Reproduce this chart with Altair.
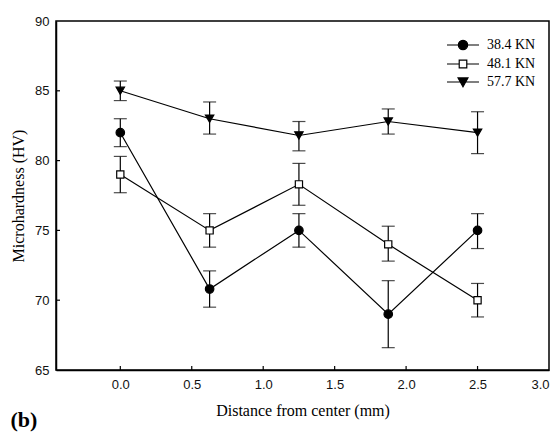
import altair as alt
import pandas as pd

# ---- data ----
distance = [0.0, 0.625, 1.25, 1.875, 2.5]
series_names = ["38.4 KN", "48.1 KN", "57.7 KN"]

mean_384 = [82.0, 70.8, 75.0, 69.0, 75.0]
lo_384 = [81.0, 69.5, 73.8, 66.6, 73.7]
hi_384 = [83.0, 72.1, 76.2, 71.4, 76.2]

mean_481 = [79.0, 75.0, 78.3, 74.0, 70.0]
lo_481 = [77.7, 73.8, 76.8, 72.8, 68.8]
hi_481 = [80.3, 76.2, 79.8, 75.3, 71.2]

mean_577 = [85.0, 83.0, 81.8, 82.8, 82.0]
lo_577 = [84.3, 81.9, 80.7, 81.9, 80.5]
hi_577 = [85.7, 84.2, 82.8, 83.7, 83.5]

x_ticks = [0.0, 0.5, 1.0, 1.5, 2.0, 2.5, 3.0]
y_ticks = [65, 70, 75, 80, 85, 90]

rows = []
for name, m, lo, hi in zip(series_names,
                           [mean_384, mean_481, mean_577],
                           [lo_384, lo_481, lo_577],
                           [hi_384, hi_481, hi_577]):
    for d, mv, l, h in zip(distance, m, lo, hi):
        rows.append({"series": name, "x": d, "y": mv, "lo": l, "hi": h})
df = pd.DataFrame(rows)

W, H = 493, 349
XDOM = [-0.45, 3.0]
YDOM = [65, 90]

xs = alt.Scale(domain=XDOM, nice=False, zero=False)
ys = alt.Scale(domain=YDOM, nice=False, zero=False)

base = alt.Chart(df)

x_enc = alt.X("x:Q", scale=xs, axis=alt.Axis(
    values=x_ticks, format=".1f", title="Distance from center (mm)",
    tickSize=0, labelPadding=8, titlePadding=11, grid=False))
y_enc = alt.Y("y:Q", scale=ys, axis=alt.Axis(
    values=y_ticks, format="d", title="Microhardness (HV)",
    tickSize=0, labelPadding=7, titlePadding=8, grid=False))

lines = base.mark_line(color="black", strokeWidth=1.2).encode(
    x=x_enc, y=y_enc, detail="series:N")

ebar = base.mark_rule(color="black", strokeWidth=1.2).encode(
    x="x:Q", y="lo:Q", y2="hi:Q")
cap_lo = base.mark_tick(orient="horizontal", size=13, thickness=1.2, color="black").encode(
    x="x:Q", y="lo:Q")
cap_hi = base.mark_tick(orient="horizontal", size=13, thickness=1.2, color="black").encode(
    x="x:Q", y="hi:Q")

pt_styles = {
    "38.4 KN": dict(shape="circle", fill="black", size=72),
    "48.1 KN": dict(shape="square", fill="white", size=52),
    "57.7 KN": dict(shape="triangle-down", fill="black", size=70),
}
point_layers = []
for name, st in pt_styles.items():
    point_layers.append(
        base.transform_filter(alt.datum.series == name).mark_point(
            shape=st["shape"], fill=st["fill"], size=st["size"],
            stroke="black", strokeWidth=1.2, opacity=1, filled=False
        ).encode(x="x:Q", y="y:Q")
    )

# legend symbols: line + marker as custom paths
leg_paths = [
    "M-1.78,0L1.78,0M-0.52,0A0.52,0.52,0,1,1,0.52,0A0.52,0.52,0,1,1,-0.52,0Z",
    "M-1.78,0L-0.42,0M0.42,0L1.78,0M-0.42,-0.42L0.42,-0.42L0.42,0.42L-0.42,0.42Z",
    "M-1.78,0L1.78,0M-0.55,-0.45L0.55,-0.45L0,0.52Z",
]
legend_layer = base.transform_filter("false").mark_point(
    strokeWidth=1.2, opacity=1
).encode(
    x="x:Q", y="y:Q",
    shape=alt.Shape("series:N", scale=alt.Scale(domain=series_names, range=leg_paths),
                    title=None),
    fill=alt.Fill("series:N", scale=alt.Scale(domain=series_names,
                                               range=["black", "white", "black"]),
                  title=None),
    stroke=alt.Stroke("series:N", scale=alt.Scale(domain=series_names,
                                                   range=["black", "black", "black"]),
                      title=None),
)

# inside tick marks
xt = alt.Chart(pd.DataFrame({"t": x_ticks[:-1]})).mark_rule(color="black", strokeWidth=1.2).encode(
    x="t:Q", y=alt.value(H), y2=alt.value(H - 4))
yt = alt.Chart(pd.DataFrame({"t": y_ticks[1:-1]})).mark_rule(color="black", strokeWidth=1.2).encode(
    y="t:Q", x=alt.value(0), x2=alt.value(4))

chart = alt.layer(lines, ebar, cap_lo, cap_hi, *point_layers, legend_layer, xt, yt).properties(
    width=W, height=H,
    autosize=alt.AutoSizeParams(type="none"),
    padding={"left": 48, "top": 13, "right": 3, "bottom": 66},
    title=alt.TitleParams("(b)", orient="bottom", anchor="start", frame="bounds",
                          font="Liberation Serif", fontSize=22, fontWeight="bold",
                          color="black", offset=-8),
).configure_view(stroke="black", strokeWidth=1.5).configure_axis(
    domainColor="black", domainWidth=1.5,
    labelFont="Liberation Sans", labelFontSize=13, labelColor="#111",
    titleFont="Liberation Serif", titleFontSize=16, titleFontWeight="normal", titleColor="black",
).configure_legend(
    orient="none", legendX=397, legendY=14,
    labelFont="Liberation Serif", labelFontSize=14, labelColor="black",
    symbolSize=324, symbolStrokeColor="black", symbolStrokeWidth=1.2,
    labelOffset=14, rowPadding=1,
)

chart.save("out.html", embed_options={"renderer": "svg", "actions": False})
